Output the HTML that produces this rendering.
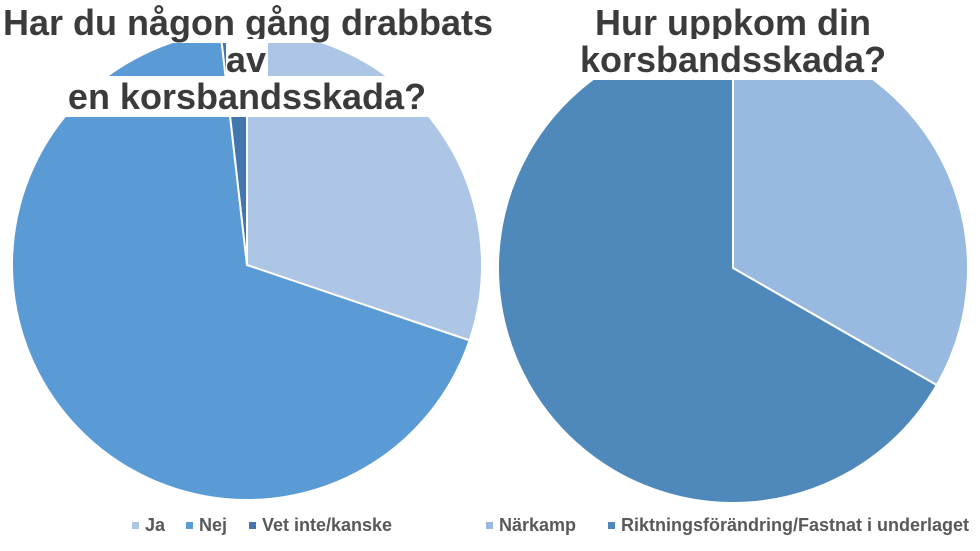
<!DOCTYPE html>
<html><head><meta charset="utf-8">
<style>
html,body{margin:0;padding:0;background:#fff;}
#wrap{position:relative;width:980px;height:551px;overflow:hidden;font-family:"Liberation Sans Narrow","Liberation Sans",sans-serif;}
svg{position:absolute;left:0;top:0;}
.title{position:absolute;text-align:center;font-weight:bold;font-size:36px;line-height:37px;color:#3b3b3b;}
.title span{background:#fff;padding:0 2px;}
.legend{position:absolute;top:515px;font-weight:bold;font-size:18px;color:#595959;white-space:nowrap;}
.item{position:absolute;top:0;}
.sw{display:inline-block;width:7px;height:7px;margin-right:6px;vertical-align:2px;}
</style></head>
<body>
<div id="wrap">
<svg id="svg" width="980" height="551"></svg>
<div class="title" style="left:0;width:494px;top:4px;"><span>Har du någon gång drabbats av</span><br><span>en korsbandsskada?</span></div>
<div class="title" style="left:490px;width:486px;top:4px;"><span>Hur uppkom din</span><br><span>korsbandsskada?</span></div>
<div class="legend" style="left:0;width:490px;">
 <div class="item" style="left:132px"><span class="sw" style="background:#adc6e6"></span>Ja</div>
 <div class="item" style="left:186px"><span class="sw" style="background:#5b9bd5"></span>Nej</div>
 <div class="item" style="left:249px"><span class="sw" style="background:#4276ad"></span>Vet inte/kanske</div>
</div>
<div class="legend" style="left:0;width:980px;">
 <div class="item" style="left:486px"><span class="sw" style="background:#98b9e0"></span>Närkamp</div>
 <div class="item" style="left:608px"><span class="sw" style="background:#4f89bb"></span>Riktningsförändring/Fastnat i underlaget</div>
</div>
</div>
<script>
const leftCategories = ["Ja","Nej","Vet inte/kanske"];
const leftValues = [30.2, 68.0, 1.8];
const rightCategories = ["Närkamp","Riktningsförändring/Fastnat i underlaget"];
const rightValues = [33.3, 66.7];

const svg = document.getElementById('svg');
const NS = 'http://www.w3.org/2000/svg';
function drawPie(cx, cy, r, cats, vals, colors, prefix){
  const total = vals.reduce((a,b)=>a+b,0);
  let a0 = 0;
  vals.forEach((v,i)=>{
    const a1 = a0 + v/total*2*Math.PI;
    const x0 = cx + r*Math.sin(a0), y0 = cy - r*Math.cos(a0);
    const x1 = cx + r*Math.sin(a1), y1 = cy - r*Math.cos(a1);
    const large = (a1-a0) > Math.PI ? 1 : 0;
    const p = document.createElementNS(NS,'path');
    p.setAttribute('d', `M${cx},${cy} L${x0},${y0} A${r},${r} 0 ${large} 1 ${x1},${y1} Z`);
    p.setAttribute('fill', colors[i]);
    p.setAttribute('stroke', '#fff');
    p.setAttribute('stroke-width', '2');
    
    
    svg.appendChild(p);
    a0 = a1;
  });
}
drawPie(247, 265, 235, leftCategories, leftValues, ['#adc6e6','#5b9bd5','#4276ad'], 'left');
drawPie(733, 268, 235, rightCategories, rightValues, ['#98b9e0','#4f89bb'], 'right');
</script>
</body></html>
